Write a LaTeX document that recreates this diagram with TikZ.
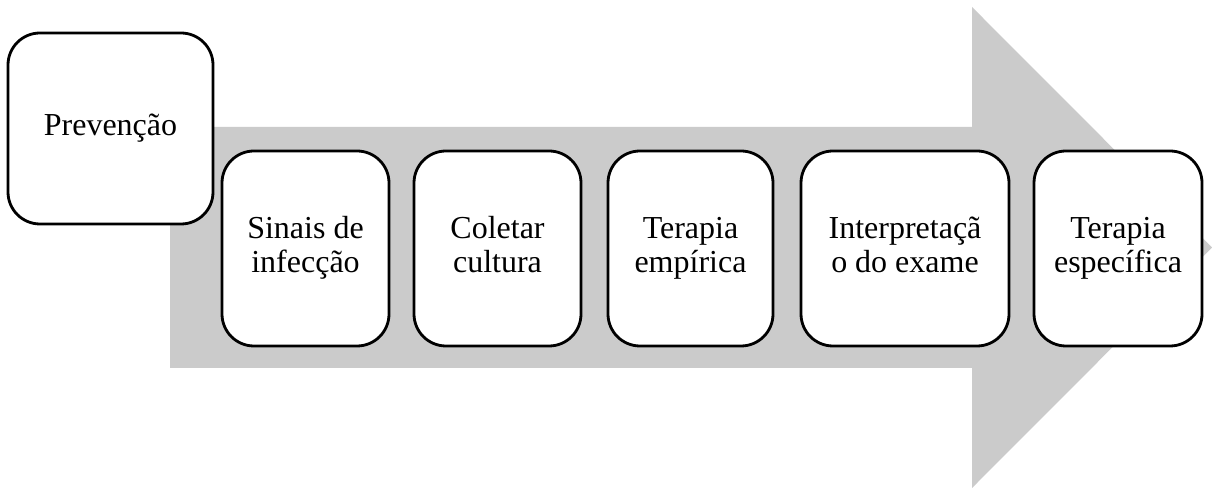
\documentclass[tikz,border=0pt]{standalone}
\usepackage{fontspec}
\setmainfont{Liberation Serif}
\definecolor{arrowgray}{RGB}{203,203,203}
\newcommand{\twolines}[2]{\strut #1\\\strut #2}
\tikzset{
  stagebox/.style={draw=black, line width=2.8pt, fill=white, rounded corners=32pt,
    align=center, inner sep=0pt, font=\fontsize{32pt}{34pt}\selectfont},
}
\begin{document}
\begin{tikzpicture}[x=1pt,y=1pt]
\useasboundingbox (0,0) rectangle (1212,489);
% big arrow
\fill[arrowgray] (170,362) -- (972,362) -- (972,482) -- (1212,241.5) -- (972,1) -- (972,121) -- (170,121) -- cycle;
% boxes
\node[stagebox, minimum width=205pt, minimum height=191pt] (prev) at (110.5,360.5) {\strut Prevenção};
\node[stagebox, minimum width=167pt, minimum height=195pt] (sinais) at (305.5,240.5) {\twolines{Sinais de}{infecção}};
\node[stagebox, minimum width=167pt, minimum height=195pt] (coletar) at (497.5,240.5) {\twolines{Coletar}{cultura}};
\node[stagebox, minimum width=165pt, minimum height=195pt] (empirica) at (690.5,240.5) {\twolines{Terapia}{empírica}};
\node[stagebox, minimum width=208pt, minimum height=195pt] (interp) at (905,240.5) {\twolines{Interpretaçã}{o do exame}};
\node[stagebox, minimum width=168pt, minimum height=195pt] (especifica) at (1118,240.5) {\twolines{Terapia}{específica}};
\end{tikzpicture}
\end{document}
